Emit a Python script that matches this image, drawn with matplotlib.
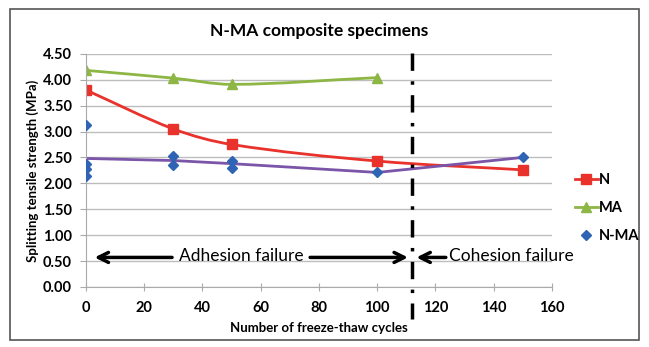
import numpy as np
import matplotlib
matplotlib.use("Agg")
import matplotlib.pyplot as plt
from matplotlib.path import Path
from matplotlib.patches import PathPatch, Rectangle

plt.rcParams['font.family'] = ['Lato', 'DejaVu Sans']

# freeze-thaw cycles and splitting tensile strength (MPa)
cycles_n = [0, 30, 50, 100, 150]
strength_n = [3.80, 3.05, 2.75, 2.43, 2.26]

cycles_ma = [0, 30, 50, 100]
strength_ma = [4.18, 4.03, 3.91, 4.04]

# individual N-MA specimens
cycles_nma_pts = [0, 0, 0, 0, 30, 30, 50, 50, 100, 150]
strength_nma_pts = [3.12, 2.37, 2.27, 2.15, 2.52, 2.35, 2.44, 2.30, 2.21, 2.50]

# N-MA mean curve
cycles_nma = [0, 30, 50, 100, 150]
strength_nma = [2.48, 2.44, 2.38, 2.21, 2.50]

failure_boundary = 112

red = '#E8322B'
green = '#8DB645'
blue = '#2F64B4'
purple = '#7A55A8'


def smooth_path(xs, ys):
    # cubic Hermite segments as bezier, tangent from neighbouring points
    xs = np.asarray(xs, float)
    ys = np.asarray(ys, float)
    n = len(xs)
    slopes = np.empty(n)
    for i in range(n):
        a, b = max(i - 1, 0), min(i + 1, n - 1)
        slopes[i] = (ys[b] - ys[a]) / (xs[b] - xs[a])
    verts = [(xs[0], ys[0])]
    codes = [Path.MOVETO]
    for i in range(n - 1):
        h = (xs[i + 1] - xs[i]) / 3
        verts += [(xs[i] + h, ys[i] + h * slopes[i]),
                  (xs[i + 1] - h, ys[i + 1] - h * slopes[i + 1]),
                  (xs[i + 1], ys[i + 1])]
        codes += [Path.CURVE4] * 3
    return Path(verts, codes)


fig = plt.figure(figsize=(6.49, 3.47), dpi=100)
fig.patches.append(Rectangle((0.016, 0.02), 0.968, 0.955, transform=fig.transFigure,
                             fill=False, edgecolor='#555555', linewidth=1.2))
ax = fig.add_axes([0.1325, 0.173, 0.718, 0.672])

ax.add_patch(PathPatch(smooth_path(cycles_n, strength_n), fill=False,
                       edgecolor=red, linewidth=2))
ax.plot(cycles_n, strength_n, linestyle='none', marker='s', markersize=7,
        color=red, label='N')
ax.add_patch(PathPatch(smooth_path(cycles_ma, strength_ma), fill=False,
                       edgecolor=green, linewidth=2))
ax.plot(cycles_ma, strength_ma, linestyle='none', marker='^', markersize=7,
        color=green, label='MA')
ax.plot(cycles_nma, strength_nma, color=purple, linewidth=2)
ax.plot(cycles_nma_pts, strength_nma_pts, linestyle='none', marker='D',
        markersize=5.5, color=blue, label='N-MA', zorder=4)

# legend proxies with line through marker
h_n, = ax.plot([], [], color=red, marker='s', markersize=7, linewidth=2)
h_ma, = ax.plot([], [], color=green, marker='^', markersize=7, linewidth=2)
h_nma, = ax.plot([], [], color=blue, marker='D', markersize=5.5, linestyle='none')
fig.legend([h_n, h_ma, h_nma], ['N', 'MA', 'N-MA'], loc='center left',
           bbox_to_anchor=(0.865, 0.40), frameon=False, handlelength=1.6,
           handletextpad=0.1, labelspacing=0.95,
           prop={'weight': 'bold', 'size': 10.5})

ax.set_xlim(0, 160)
ax.set_ylim(0, 4.5)
ax.set_xticks(np.arange(0, 161, 20))
ax.set_yticks(np.arange(0, 4.51, 0.5))
ax.set_yticklabels([f'{v:.2f}' for v in np.arange(0, 4.51, 0.5)])
ax.grid(axis='y', color='#BDBDBD', linewidth=1)
ax.set_axisbelow(True)
for s in ['top', 'right']:
    ax.spines[s].set_visible(False)
for s in ['left', 'bottom']:
    ax.spines[s].set_color('#AAAAAA')
ax.tick_params(axis='both', color='#AAAAAA', length=4, labelsize=10.5, pad=6)
ax.tick_params(axis='x', direction='inout', length=6, pad=7)
ax.tick_params(axis='y', direction='out', length=4)
for lab in ax.get_xticklabels() + ax.get_yticklabels():
    lab.set_fontweight('bold')

ax.set_title('N-MA composite specimens', fontsize=12.5, fontweight='bold', pad=13)
ax.set_xlabel('Number of freeze-thaw cycles', fontsize=9.5, fontweight='bold', labelpad=5)
ax.set_ylabel('Splitting tensile strength (MPa)', fontsize=9.5, fontweight='bold', labelpad=3)

# boundary between failure modes
ax.plot([failure_boundary, failure_boundary], [4.52, -0.62], color='black',
        linewidth=2.5, linestyle=(0, (5, 3, 1, 3)), clip_on=False, zorder=5)

arrow_y = 0.57
arrow_kw = dict(arrowstyle='->', color='black', lw=2.5, mutation_scale=18)
ax.annotate('', xy=(2.0, arrow_y), xytext=(30.5, arrow_y), arrowprops=arrow_kw)
ax.annotate('', xy=(failure_boundary - 0.5, arrow_y), xytext=(76, arrow_y), arrowprops=arrow_kw)
ax.annotate('', xy=(failure_boundary + 0.5, arrow_y), xytext=(124.5, arrow_y), arrowprops=arrow_kw)
ax.text(53.2, arrow_y + 0.02, 'Adhesion failure', fontsize=12.5, ha='center', va='center')
ax.text(146, arrow_y + 0.02, 'Cohesion failure', fontsize=12.5, ha='center', va='center')

fig.savefig('out.png', dpi=100)
